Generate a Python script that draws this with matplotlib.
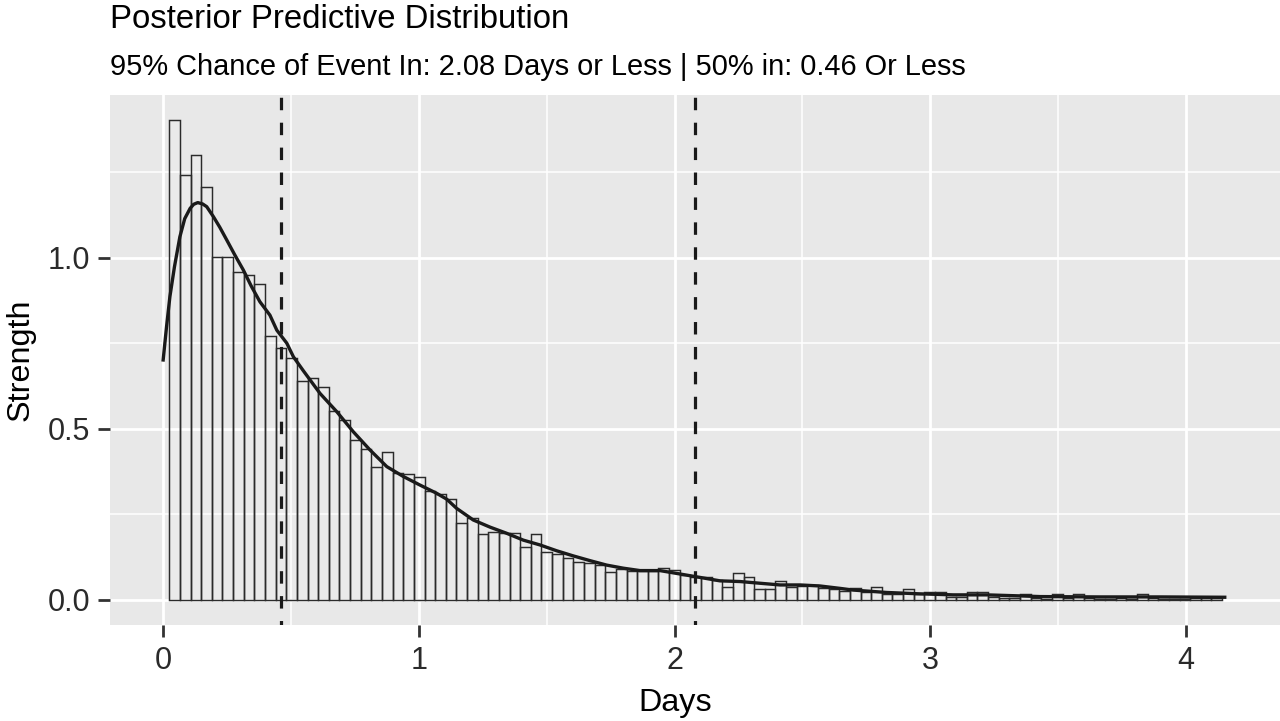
import numpy as np
import matplotlib
matplotlib.use("Agg")
import matplotlib.pyplot as plt
from matplotlib.ticker import MultipleLocator

plt.rcParams['font.family'] = ['Liberation Sans', 'DejaVu Sans']

# ---- data ----
bin_start = 0.0246
bin_width = 0.04158
bar_heights = [
    1.404, 1.242, 1.301, 1.209, 1.004, 1.004, 0.958, 0.951, 0.924, 0.771,
    0.738, 0.708, 0.640, 0.650, 0.624, 0.553, 0.526, 0.468, 0.442, 0.390,
    0.434, 0.370, 0.368, 0.360, 0.319, 0.310, 0.295, 0.226, 0.239, 0.192,
    0.198, 0.197, 0.195, 0.156, 0.192, 0.141, 0.134, 0.122, 0.112, 0.107,
    0.102, 0.083, 0.090, 0.086, 0.085, 0.085, 0.093, 0.088, 0.073, 0.066,
    0.066, 0.058, 0.037, 0.078, 0.066, 0.033, 0.033, 0.056, 0.037, 0.040,
    0.044, 0.034, 0.031, 0.027, 0.036, 0.024, 0.039, 0.019, 0.019, 0.033,
    0.019, 0.022, 0.022, 0.010, 0.010, 0.022, 0.022, 0.010, 0.006, 0.006,
    0.017, 0.005, 0.003, 0.017, 0.005, 0.017, 0.005, 0.003, 0.003, 0.005,
    0.003, 0.017, 0.005, 0.003, 0.003, 0.003, 0.005, 0.005, 0.005,
]
density_x = [0.0, 0.014, 0.027, 0.045, 0.066, 0.085, 0.106, 0.120, 0.136, 0.155,
             0.171, 0.197, 0.222, 0.249, 0.280, 0.314, 0.345, 0.379,
             0.418, 0.445, 0.484, 0.510, 0.549, 0.614, 0.679, 0.744, 0.809, 0.875,
             0.940, 1.005, 1.070, 1.109, 1.148, 1.213, 1.279, 1.344, 1.409, 1.474,
             1.539, 1.604, 1.670, 1.735, 1.800, 1.865, 1.943, 2.022, 2.100, 2.178,
             2.256, 2.334, 2.413, 2.491, 2.569, 2.647, 2.699, 2.830, 2.960, 3.090,
             3.221, 3.351, 3.429, 3.660, 3.900, 4.158]
density_y = [0.697, 0.800, 0.887, 0.975, 1.062, 1.115, 1.145, 1.157, 1.162, 1.158,
             1.150, 1.121, 1.090, 1.053, 1.010, 0.965, 0.918, 0.872,
             0.833, 0.789, 0.751, 0.711, 0.670, 0.604, 0.551, 0.492, 0.439, 0.390,
             0.361, 0.336, 0.312, 0.295, 0.268, 0.234, 0.213, 0.195, 0.175, 0.161,
             0.144, 0.129, 0.115, 0.102, 0.093, 0.086, 0.086, 0.076, 0.066, 0.056,
             0.054, 0.049, 0.044, 0.044, 0.041, 0.034, 0.029, 0.022, 0.018, 0.015,
             0.015, 0.012, 0.010, 0.009, 0.009, 0.008]
q50 = 0.46
q95 = 2.08
x_ticks = [0, 1, 2, 3, 4]
y_ticks = [0.0, 0.5, 1.0]
y_tick_labels = ["0.0", "0.5", "1.0"]
title = "Posterior Predictive Distribution"
subtitle = "95% Chance of Event In: 2.08 Days or Less | 50% in: 0.46 Or Less"
xlabel = "Days"
ylabel = "Strength"

# ---- figure ----
fig = plt.figure(figsize=(12.8, 7.21), dpi=100)
ax = fig.add_axes([110/1280, 1 - 625/721, 1170/1280, 530/721])
ax.set_facecolor('#E8E8E8')
for s in ax.spines.values():
    s.set_visible(False)

ax.set_xlim(-0.2072, 4.3675)
ax.set_ylim(-0.0731, 1.4766)

ax.xaxis.set_major_locator(plt.FixedLocator(x_ticks))
ax.xaxis.set_minor_locator(MultipleLocator(0.5))
ax.yaxis.set_major_locator(plt.FixedLocator(y_ticks))
ax.yaxis.set_minor_locator(MultipleLocator(0.25))
ax.set_xticklabels([str(t) for t in x_ticks])
ax.set_yticklabels(y_tick_labels)
ax.grid(which='major', color='white', lw=2.0)
ax.grid(which='minor', color='white', lw=1.1)
ax.set_axisbelow(True)
ax.tick_params(which='major', direction='out', length=8.4, width=2.0,
               color='#333333', labelsize=22, labelcolor='#2a2a2a')
ax.tick_params(axis='x', which='major', pad=7)
ax.tick_params(axis='y', which='major', pad=6)
ax.tick_params(which='minor', length=0)

edges = bin_start + bin_width * np.arange(len(bar_heights))
ax.bar(edges, bar_heights, width=bin_width, align='edge',
       facecolor=(1, 1, 1, 0.10), edgecolor='#2b2b2b', lw=1.05, zorder=2)
ax.plot(density_x, density_y, color='#1a1a1a', lw=2.4, zorder=3,
        solid_capstyle='butt', solid_joinstyle='round')
for q in (q50, q95):
    ax.axvline(q, color='#1a1a1a', lw=2.3, ls=(2.5, (3.9, 3.9)), zorder=4)

ax.set_xlabel(xlabel, fontsize=23.3, color='black')
ax.set_ylabel(ylabel, fontsize=23.3, color='black')
ax.xaxis.set_label_coords((675 - 110) / 1170, -0.118)
ax.yaxis.set_label_coords(-0.064, 0.5)

fig.text(110/1280, 1 - 28/721, title, fontsize=23.7, color='black',
         ha='left', va='baseline')
fig.text(110/1280, 1 - 75/721, subtitle, fontsize=20.85, color='black',
         ha='left', va='baseline')

fig.savefig('out.png', dpi=100)
